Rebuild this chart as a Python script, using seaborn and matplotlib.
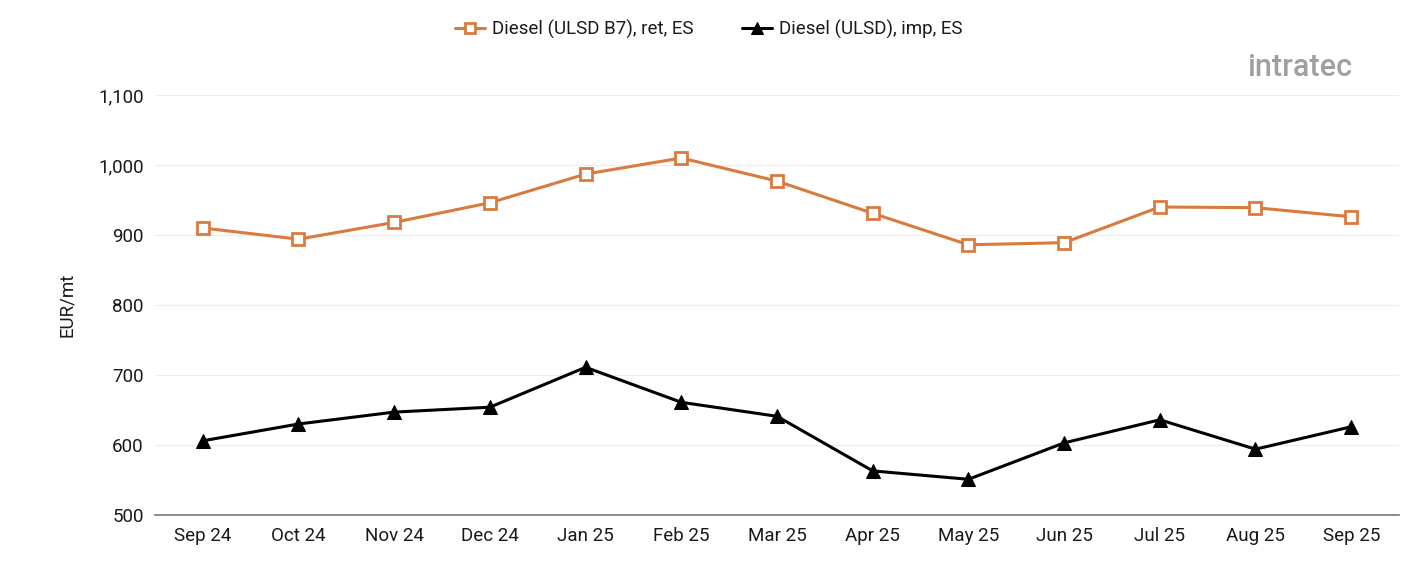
import matplotlib
matplotlib.use("Agg")
import matplotlib.pyplot as plt
import seaborn as sns
import numpy as np
import pandas as pd

months = ["Sep 24", "Oct 24", "Nov 24", "Dec 24", "Jan 25", "Feb 25", "Mar 25",
          "Apr 25", "May 25", "Jun 25", "Jul 25", "Aug 25", "Sep 25"]
retail_b7 = [910, 894, 918, 946, 987, 1010, 977, 931, 886, 889, 940, 939, 926]
import_ulsd = [606, 630, 647, 654, 711, 661, 641, 563, 551, 603, 636, 594, 626]
series_names = ["Diesel (ULSD B7), ret, ES", "Diesel (ULSD), imp, ES"]
yticks = [500, 600, 700, 800, 900, 1000, 1100]

sns.set_theme(style="white")
plt.rcParams['font.family'] = ['Roboto', 'DejaVu Sans']

fig = plt.figure(figsize=(14.01, 5.61), dpi=100)
ax = fig.add_axes([0.1106, 0.082, 0.888, 0.7487])

x = np.arange(len(months))
df1 = pd.DataFrame({"x": x, "y": retail_b7})
df2 = pd.DataFrame({"x": x, "y": import_ulsd})

orange = "#DA7A3E"
sns.lineplot(data=df1, x="x", y="y", ax=ax, color=orange, linewidth=2.2,
             marker="s", markersize=9, markerfacecolor="white",
             markeredgecolor=orange, markeredgewidth=2, label=series_names[0])
sns.lineplot(data=df2, x="x", y="y", ax=ax, color="black", linewidth=2.2,
             marker="^", markersize=10, markerfacecolor="black",
             markeredgecolor="black", label=series_names[1])

ax.set_xlim(-0.5, len(months) - 0.5)
ax.set_ylim(500, 1100)
ax.set_yticks(yticks)
ax.set_yticklabels([f"{v:,}" for v in yticks])
ax.set_xticks(x)
ax.set_xticklabels(months)
ax.tick_params(axis="both", labelsize=13.5, colors="#1A1A1A", length=0, pad=8)
ax.tick_params(axis="x", pad=9)
ax.set_xlabel("")
ax.set_ylabel("EUR/mt", fontsize=13.5, color="#1A1A1A", labelpad=16)
ax.grid(axis="y", color="#EEEEEE", linewidth=0.8)
for s in ["top", "right", "left"]:
    ax.spines[s].set_visible(False)
ax.spines["bottom"].set_color("#777777")
ax.spines["bottom"].set_linewidth(1.2)

leg = ax.legend(loc="center", bbox_to_anchor=(0.506, 0.948), bbox_transform=fig.transFigure,
                ncol=2, frameon=False, fontsize=13.5, handlelength=1.6, columnspacing=2.6,
                handletextpad=0.35, markerscale=0.85)
for t in leg.get_texts():
    t.set_color("#1A1A1A")

fig.text(0.928, 0.88, "intratec", fontsize=22, color="#A0A0A0", ha="center", va="center",
         fontweight="medium")

fig.savefig("out.png", dpi=100)
